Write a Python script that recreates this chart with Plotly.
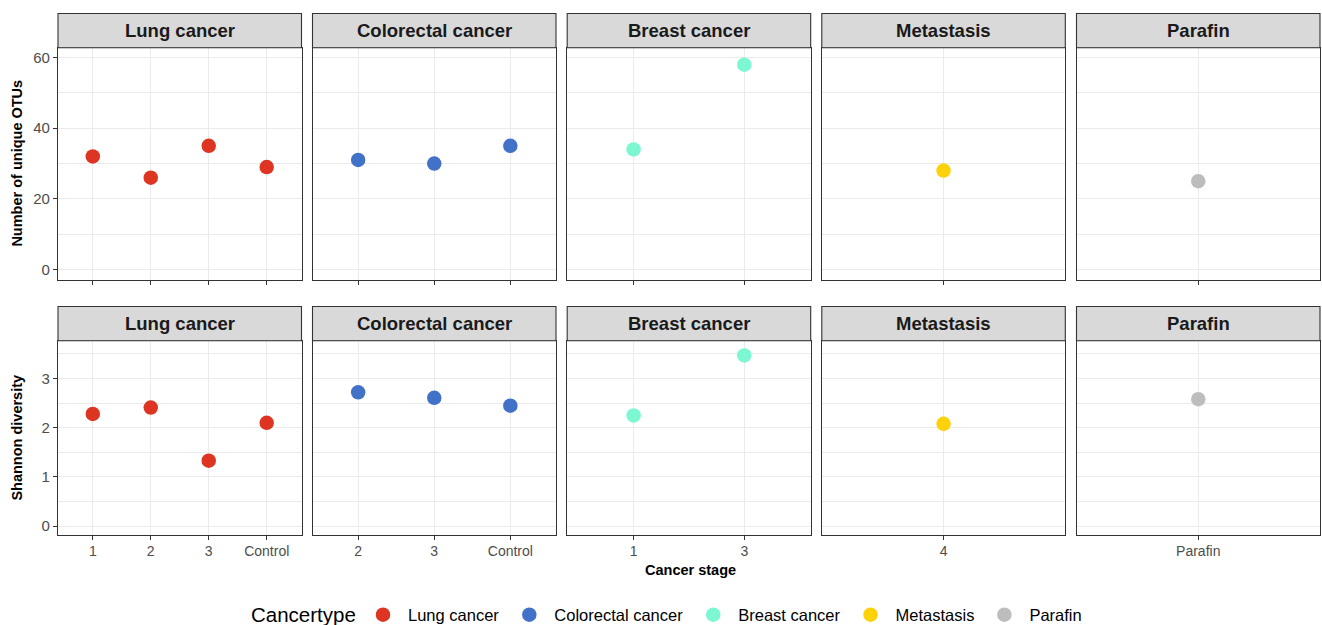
import plotly.graph_objects as go

W, H = 1322, 625

cancer_types = ["Lung cancer", "Colorectal cancer", "Breast cancer", "Metastasis", "Parafin"]
colors = ["#DD3522", "#4271C8", "#7DF7D2", "#FDD20A", "#BDBDBD"]
stages = {
    "Lung cancer": ["1", "2", "3", "Control"],
    "Colorectal cancer": ["2", "3", "Control"],
    "Breast cancer": ["1", "3"],
    "Metastasis": ["4"],
    "Parafin": ["Parafin"],
}
otus = {
    "Lung cancer": [32, 26, 35, 29],
    "Colorectal cancer": [31, 30, 35],
    "Breast cancer": [34, 58],
    "Metastasis": [28],
    "Parafin": [25],
}
shannon = {
    "Lung cancer": [2.28, 2.41, 1.33, 2.10],
    "Colorectal cancer": [2.72, 2.61, 2.45],
    "Breast cancer": [2.25, 3.47],
    "Metastasis": [2.08],
    "Parafin": [2.58],
}
row_titles = ["Number of unique OTUs", "Shannon diversity"]
x_title = "Cancer stage"
legend_title = "Cancertype"

# layout geometry in pixels
panel_left = [58.0, 312.5, 567.2, 821.8, 1076.5]
panel_w = 243.5
rows_px = [(47.7, 279.5), (340.7, 534.5)]
strip_h = 34.2
y_ranges = [[-2.85, 62.8], [-0.17, 3.77]]
y_dtick = [20, 1]
y_minor = [10, 0.5]

FONT = "Liberation Sans, Arial, sans-serif"
fig = go.Figure()

def px_x(x):
    return x / W

def px_y(y):
    return 1 - y / H

layout = {}
shapes = []
annotations = []
datasets = [otus, shannon]
for r in range(2):
    top, bot = rows_px[r]
    for c, ct in enumerate(cancer_types):
        idx = r * 5 + c + 1
        xa = "xaxis" if idx == 1 else f"xaxis{idx}"
        ya = "yaxis" if idx == 1 else f"yaxis{idx}"
        xref = "x" if idx == 1 else f"x{idx}"
        yref = "y" if idx == 1 else f"y{idx}"
        cats = stages[ct]
        n = len(cats)
        x0 = panel_left[c]
        x1 = x0 + panel_w
        layout[xa] = dict(
            domain=[px_x(x0), px_x(x1)], anchor=yref,
            type="category", categoryorder="array", categoryarray=cats,
            range=[-0.6, n - 0.4],
            showgrid=True, gridcolor="#EBEBEB", gridwidth=1.1,
            showline=True, linecolor="#333333", linewidth=1.1, mirror=True,
            ticks="outside", ticklen=4, tickcolor="#333333", tickwidth=1.1,
            showticklabels=(r == 1),
            tickfont=dict(family=FONT, size=14, color="#4D4D4D"),
            zeroline=False, fixedrange=True,
        )
        layout[ya] = dict(
            domain=[px_y(bot), px_y(top)], anchor=xref,
            range=y_ranges[r], dtick=y_dtick[r], tick0=0,
            showgrid=True, gridcolor="#EBEBEB", gridwidth=1.1,
            minor=dict(showgrid=True, dtick=y_minor[r], tick0=0,
                       gridcolor="#EBEBEB", gridwidth=0.6),
            showline=True, linecolor="#333333", linewidth=1.1, mirror=True,
            ticks="outside" if c == 0 else "", ticklen=4,
            tickcolor="#333333", tickwidth=1.1,
            showticklabels=(c == 0),
            tickfont=dict(family=FONT, size=15, color="#4D4D4D"),
            zeroline=False, fixedrange=True,
        )
        fig.add_trace(go.Scatter(
            x=cats, y=datasets[r][ct], mode="markers",
            marker=dict(color=colors[c], size=14.5, line=dict(width=0)),
            name=ct, legendgroup=ct, showlegend=(r == 0),
            xaxis=xref, yaxis=yref, cliponaxis=False,
        ))
        shapes.append(dict(
            type="rect", xref="paper", yref="paper",
            x0=px_x(x0), x1=px_x(x1), y0=px_y(top), y1=px_y(top - strip_h),
            fillcolor="#D9D9D9", line=dict(color="#333333", width=1.1),
        ))
        annotations.append(dict(
            text=f"<b>{ct}</b>", xref="paper", yref="paper",
            x=px_x((x0 + x1) / 2), y=px_y(top - strip_h / 2),
            xanchor="center", yanchor="middle", showarrow=False,
            font=dict(family=FONT, size=18.5, color="#1A1A1A"),
        ))

for r in range(2):
    top, bot = rows_px[r]
    annotations.append(dict(
        text=f"<b>{row_titles[r]}</b>", xref="paper", yref="paper",
        x=px_x(17), y=px_y((top + bot) / 2), textangle=-90,
        xanchor="center", yanchor="middle", showarrow=False,
        font=dict(family=FONT, size=14.5, color="#000000"),
    ))
annotations.append(dict(
    text=f"<b>{x_title}</b>", xref="paper", yref="paper",
    x=px_x(690), y=px_y(570), xanchor="center", yanchor="middle",
    showarrow=False, font=dict(family=FONT, size=14.5, color="#000000"),
))
# legend title
annotations.append(dict(
    text=legend_title, xref="paper", yref="paper",
    x=px_x(249), y=px_y(614), xanchor="left", yanchor="middle",
    showarrow=False, font=dict(family=FONT, size=20.5, color="#000000"),
))

fig.update_layout(
    width=W, height=H,
    margin=dict(l=0, r=0, t=0, b=0, autoexpand=False),
    paper_bgcolor="white", plot_bgcolor="white",
    shapes=shapes, annotations=annotations,
    showlegend=True,
    legend=dict(
        orientation="h", x=px_x(358), xanchor="left",
        y=px_y(615), yanchor="middle",
        font=dict(family=FONT, size=16.5, color="#000000"),
        itemsizing="trace", itemwidth=40,
    ),
    **layout,
)

fig.write_html("out.html", config={"displayModeBar": False},
               post_script="document.body.style.margin='0';document.body.style.overflow='hidden';")
